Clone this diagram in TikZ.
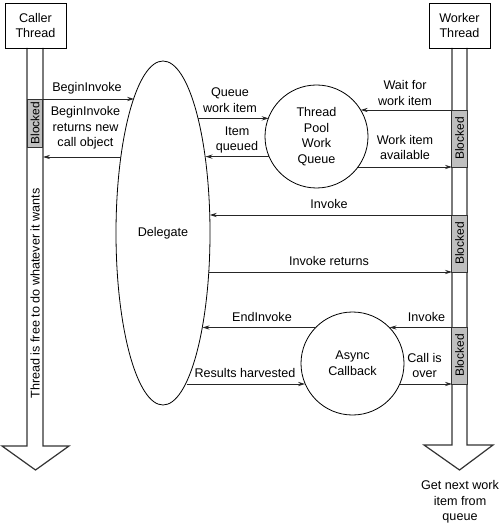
\documentclass[tikz,border=0pt]{standalone}
\usepackage{fontspec}
\setmainfont{Liberation Sans}
\usetikzlibrary{arrows.meta,shapes.geometric}
\begin{document}
\begin{tikzpicture}[x=1pt,y=-1pt,
  txt/.style={font=\fontsize{12.6}{15.7}\selectfont, align=center, inner sep=0pt},
  arr/.style={line width=0.9pt, draw=black!85, -{Stealth[length=7pt,width=4.2pt]}},
  thbox/.style={draw, line width=0.9pt, minimum width=61pt, minimum height=45pt, inner sep=0pt, outer sep=0pt, txt},
  life/.style={draw=black!80, line width=1.2pt, fill=white, line join=miter},
  blk/.style={draw=black!80, line width=0.9pt, fill=black!25, rotate=90, minimum height=15.5pt, inner sep=0pt, font=\fontsize{12}{14}\selectfont},
  circ/.style={draw, line width=0.8pt, circle, minimum size=103pt, inner sep=0pt, outer sep=0pt, txt}]
\fill[white] (0,0) rectangle (500,526);
\useasboundingbox (0,0) rectangle (500,526);

% lifelines
\draw[life] (27,48) -- (27,446) -- (2,446) -- (35.5,470) -- (69,446) -- (43,446) -- (43,48);
\draw[life] (452,48) -- (452,445) -- (424,445) -- (459.5,470) -- (493,445) -- (467,445) -- (467,48);

% thread boxes
\node[thbox] (caller) at (35.5,25.5) {Caller\\Thread};
\node[thbox] (worker) at (459.5,25.5) {Worker\\Thread};

% blocked boxes
\node[blk, minimum width=48pt] (cb) at (35,123) {Blocked};
\node[blk, minimum width=57pt] (wb1) at (459.5,138.5) {Blocked};
\node[blk, minimum width=57pt] (wb2) at (459.5,243.5) {Blocked};
\node[blk, minimum width=57pt] (wb3) at (459.5,355.5) {Blocked};

\node[txt, rotate=90] (free) at (35,293.5) {Thread is free to do whatever it wants};

% central shapes
\node[draw, line width=0.8pt, ellipse, minimum width=94pt, minimum height=344pt, inner sep=0pt, outer sep=0pt, txt] (del) at (163,233) {Delegate};
\node[circ] (q) at (316.5,136.5) {Thread\\Pool\\Work\\Queue};
\node[circ] (a) at (352.5,363.5) {Async\\Callback};

% lifeline points
\coordinate (c99) at (43,99);
\coordinate (c157) at (43,157);
\coordinate (w110) at (452,110);
\coordinate (w167) at (452,167);
\coordinate (w215) at (452,215);
\coordinate (w272) at (452,272);
\coordinate (w327) at (452,327.5);
\coordinate (w384) at (452,384);
\coordinate (d118) at (del.73.09);
\coordinate (d157) at (del.60.98);

% connectors
\draw[arr] (c99) -- (c99 -| del.102.4);
\draw[arr] (c157 -| del.119.02) -- (c157);
\draw[arr] (d118) -- (d118 -| q.158.9);
\draw[arr] (q.203.5) -- (q.203.5 -| d157);
\draw[arr] (w110) -- (w110 -| q.31.0);
\draw[arr] (w167 -| q.323.7) -- (w167);
\draw[arr] (w215) -- (w215 -| del.21.06);
\draw[arr] (w272 -| del.-40.42) -- (w272);
\draw[arr] (w327 -| a.135.6) -- (w327 -| del.-67.43);
\draw[arr] (w327) -- (w327 -| a.44.4);
\draw[arr] (w384 -| del.-81.53) -- (w384 -| a.203.5);
\draw[arr] (w384 -| a.336.5) -- (w384);

% labels
\node[txt] (l1) at (87,88) {BeginInvoke};
\node[txt] (l2) at (85.5,128) {BeginInvoke\\returns new\\call object};
\node[txt] (l3) at (230,100) {Queue\\work item};
\node[txt] (l4) at (237,140) {Item\\queued};
\node[txt] (l5) at (405,93) {Wait for\\work item};
\node[txt] (l6) at (405,147.5) {Work item\\available};
\node[txt] (l7) at (329,204) {Invoke};
\node[txt] (l8) at (329,261) {Invoke returns};
\node[txt] (l9) at (262,317) {EndInvoke};
\node[txt] (l10) at (426.5,317) {Invoke};
\node[txt] (l11) at (245,373) {Results harvested};
\node[txt] (l12) at (424.5,365.5) {Call is\\over};
\node[txt] (l13) at (460,502) {Get next work\\item from\\queue};
\end{tikzpicture}
\end{document}
